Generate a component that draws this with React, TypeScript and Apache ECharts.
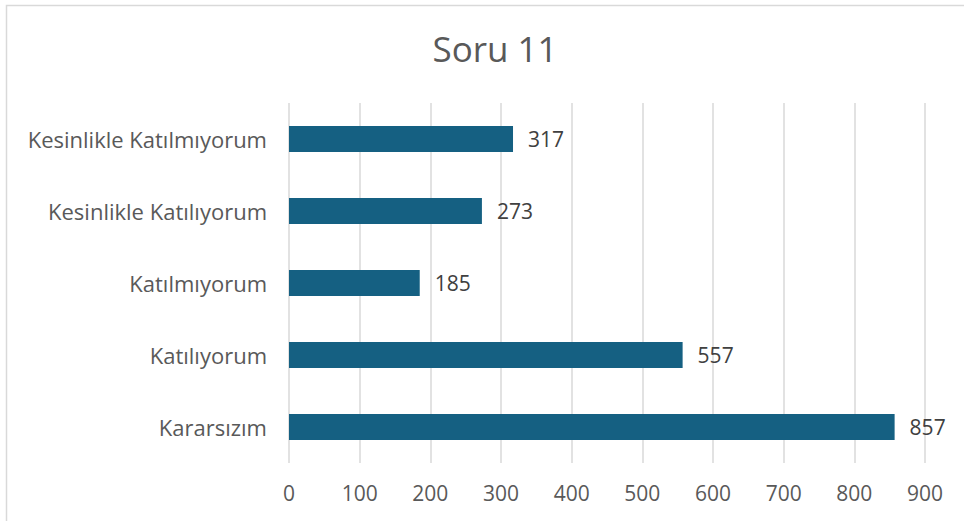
import React, { useEffect, useRef } from "react";
import * as echarts from "echarts";

const categories = ["Kararsızım", "Katılıyorum", "Katılmıyorum", "Kesinlikle Katılıyorum", "Kesinlikle Katılmıyorum"];
const values = [857, 557, 185, 273, 317];
const titleText = "Soru 11";

export default function App() {
  const ref = useRef<HTMLDivElement>(null);
  useEffect(() => {
    if (!ref.current) return;
    const chart = echarts.init(ref.current, null, { renderer: "svg" });
    const font = "'Open Sans', 'Noto Sans', sans-serif";
    chart.setOption({
      animation: false,
      backgroundColor: "#ffffff",
      title: {
        text: titleText,
        left: 490,
        textAlign: "center",
        top: 26,
        textStyle: { fontFamily: font, fontSize: 35, fontWeight: "normal", color: "#595959" },
      },
      graphic: [
        {
          type: "rect",
          shape: { x: 6.5, y: 5.5, width: 1000, height: 1000 },
          style: { fill: "none", stroke: "#d9d9d9", lineWidth: 1.5 },
          silent: true,
        },
      ],
      grid: { left: 289, right: 39, top: 103, bottom: 58, containLabel: false },
      xAxis: {
        type: "value",
        min: 0,
        max: 900,
        interval: 100,
        axisLine: { show: false },
        axisTick: { show: false },
        splitLine: { show: true, lineStyle: { color: "#d9d9d9", width: 1.5 } },
        axisLabel: { fontFamily: font, fontSize: 21, color: "#595959", margin: 19 },
      },
      yAxis: {
        type: "category",
        data: categories,
        axisLine: { show: false },
        axisTick: { show: false },
        axisLabel: { fontFamily: font, fontSize: 22, color: "#595959", margin: 22 },
      },
      series: [
        {
          type: "bar",
          data: values,
          barWidth: 26,
          itemStyle: { color: "#156082" },
          label: {
            show: true,
            position: "right",
            distance: 15,
            fontFamily: font,
            fontSize: 21,
            color: "#404040",
          },
        },
      ],
    });
    return () => chart.dispose();
  }, []);
  return <div ref={ref} style={{ position: "fixed", left: 0, top: 0, width: 964, height: 521 }} />;
}
